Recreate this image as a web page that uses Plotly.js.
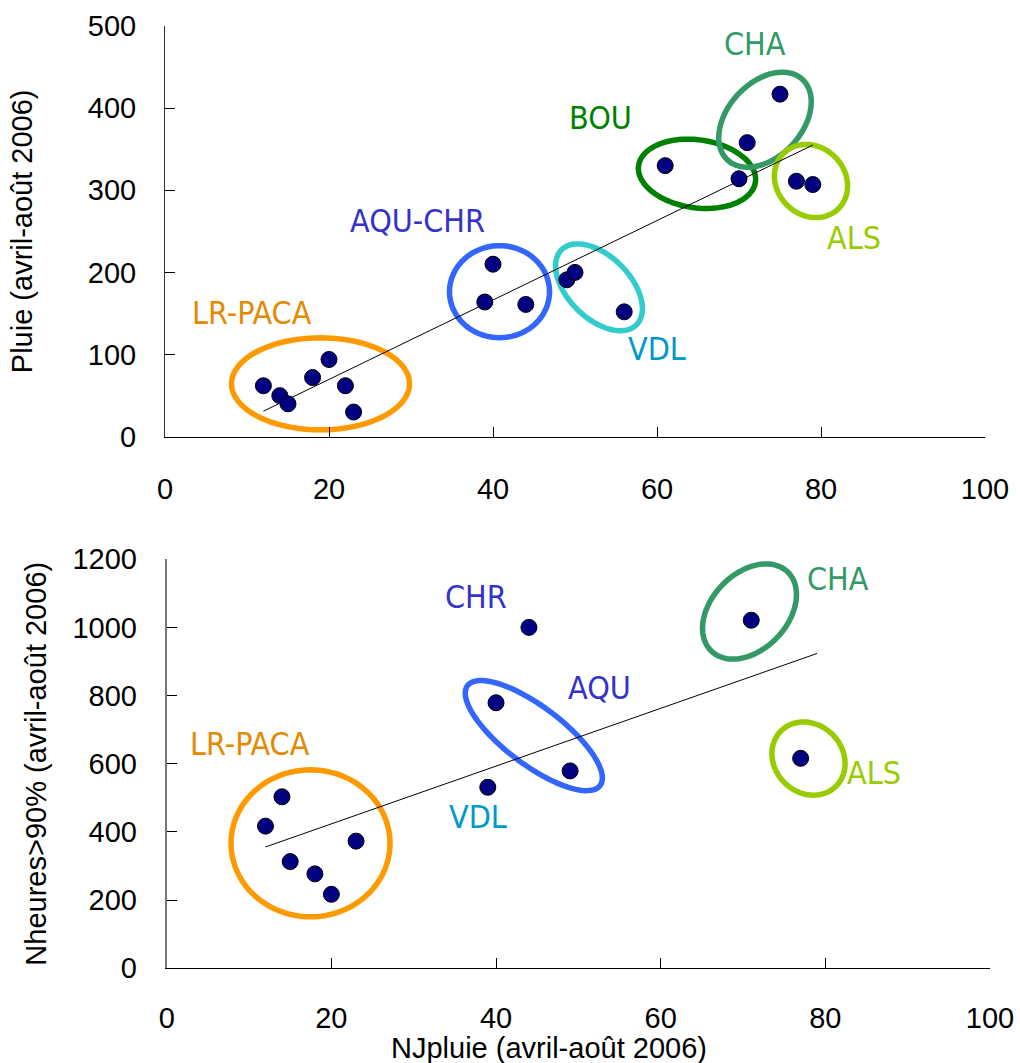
<!DOCTYPE html>
<html>
<head>
<meta charset="utf-8">
<script src="https://cdn.plot.ly/plotly-3.0.1.min.js"></script>
<style>html,body{margin:0;padding:0;background:#fff;}#chart{width:1020px;height:1063px;}</style>
</head>
<body>
<div id="chart"></div>
<script>
// ---- Data ----
const topX = [12, 14, 15, 18, 20, 22, 23, 40, 39, 44, 49, 50, 56, 61, 70, 71, 75, 77, 79];
const topY = [62, 50, 40, 72, 94, 62, 30, 210, 164, 161, 191, 200, 152, 330, 314, 358, 417, 311, 307];
const botX = [12, 14, 15, 18, 20, 23, 40, 39, 44, 49, 71, 77];
const botY = [417, 503, 313, 277, 217, 373, 779, 531, 1000, 579, 1021, 616];

const xTitle = "NJpluie (avril-août 2006)";
const yTitleTop = "Pluie (avril-août 2006)";
const yTitleBot = "Nheures>90% (avril-août 2006)";

const topLabels = ["LR-PACA", "AQU-CHR", "VDL", "BOU", "CHA", "ALS"];
const botLabels = ["LR-PACA", "CHR", "VDL", "AQU", "CHA", "ALS"];

// ---- Layout geometry ----
const W = 1020, H = 1063;
const M = {l: 100, r: 20, t: 10, b: 10};
const PW = W - M.l - M.r, PH = H - M.t - M.b;
const px2x = p => (p - M.l) / PW;
const py2y = p => (H - M.b - p) / PH;

const topXDom = [px2x(165), px2x(985)];
const topYDom = [py2y(436.7), py2y(26)];
const botXDom = [px2x(166.7), px2x(990)];
const botYDom = [py2y(968.3), py2y(559.2)];

const xRange = [0, 100], yRangeTop = [0, 500], yRangeBot = [0, 1200];

// least-squares trend line
function fit(xs, ys) {
  const n = xs.length;
  const mx = xs.reduce((a, b) => a + b, 0) / n;
  const my = ys.reduce((a, b) => a + b, 0) / n;
  let sxy = 0, sxx = 0;
  for (let i = 0; i < n; i++) { sxy += (xs[i] - mx) * (ys[i] - my); sxx += (xs[i] - mx) ** 2; }
  const s = sxy / sxx;
  return {s: s, c: my - s * mx};
}
const xMin = Math.min(...topX), xMax = Math.max(...topX);
const fTop = fit(topX, topY), fBot = fit(botX, botY);
const trendX = [xMin, xMax];

const marker = {size: 16, color: '#000080', line: {color: '#000000', width: 1}};

const traces = [
  {x: trendX, y: trendX.map(v => fTop.c + fTop.s * v), xaxis: 'x', yaxis: 'y', mode: 'lines',
   line: {color: '#000', width: 1}, hoverinfo: 'skip'},
  {x: topX, y: topY, xaxis: 'x', yaxis: 'y', mode: 'markers', marker: marker},
  {x: trendX, y: trendX.map(v => fBot.c + fBot.s * v), xaxis: 'x2', yaxis: 'y2', mode: 'lines',
   line: {color: '#000', width: 1}, hoverinfo: 'skip'},
  {x: botX, y: botY, xaxis: 'x2', yaxis: 'y2', mode: 'markers', marker: marker}
];

// ellipse outline as a path in data coords; a, b radii in px, ang in deg (screen, clockwise positive)
function ellipse(cxPx, cyPx, a, b, ang, xDom, yDom, yR, xref, yref, color) {
  const xLen = (xDom[1] - xDom[0]) * PW, yLen = (yDom[1] - yDom[0]) * PH;
  const xOrigin = M.l + xDom[0] * PW;
  const yOrigin = H - M.b - yDom[0] * PH;
  const kx = xLen / (xRange[1] - xRange[0]);
  const ky = yLen / (yR[1] - yR[0]);
  const th = ang * Math.PI / 180;
  let d = '';
  for (let i = 0; i <= 96; i++) {
    const t = i / 96 * 2 * Math.PI;
    const dx = a * Math.cos(t) * Math.cos(th) - b * Math.sin(t) * Math.sin(th);
    const dy = a * Math.cos(t) * Math.sin(th) + b * Math.sin(t) * Math.cos(th);
    const X = (cxPx + dx - xOrigin) / kx;
    const Y = (yOrigin - (cyPx + dy)) / ky;
    d += (i === 0 ? 'M' : 'L') + X.toFixed(3) + ',' + Y.toFixed(3);
  }
  d += 'Z';
  return {type: 'path', xref: xref, yref: yref, path: d, line: {color: color, width: 5.5}, layer: 'below'};
}

const C = {
  lr: '#FF9900', lrT: '#E38A00',
  aqu: '#3366FF', aquT: '#3333CC',
  vdl: '#33CCCC', vdlT: '#0099CC',
  bou: '#008000', cha: '#339966', als: '#99CC00'
};

const shapes = [
  ellipse(320.5, 383.8, 89, 46, 0, topXDom, topYDom, yRangeTop, 'x', 'y', C.lr),
  ellipse(499.5, 291.7, 50, 46, 0, topXDom, topYDom, yRangeTop, 'x', 'y', C.aqu),
  ellipse(599, 287.3, 53, 31, 45, topXDom, topYDom, yRangeTop, 'x', 'y', C.vdl),
  ellipse(697, 173.8, 59, 34, 8, topXDom, topYDom, yRangeTop, 'x', 'y', C.bou),
  ellipse(765, 119.7, 55, 37, -47, topXDom, topYDom, yRangeTop, 'x', 'y', C.cha),
  ellipse(811, 181, 39, 34, 45, topXDom, topYDom, yRangeTop, 'x', 'y', C.als),
  ellipse(310.5, 843.3, 79.5, 73.5, 0, botXDom, botYDom, yRangeBot, 'x2', 'y2', C.lr),
  ellipse(533.8, 735.6, 83, 29, 37, botXDom, botYDom, yRangeBot, 'x2', 'y2', C.aqu),
  ellipse(749.5, 611.5, 55, 38, -46, botXDom, botYDom, yRangeBot, 'x2', 'y2', C.cha),
  ellipse(808.5, 758.6, 39, 34, 45, botXDom, botYDom, yRangeBot, 'x2', 'y2', C.als)
];

const labFont = 'DejaVu Sans Condensed, DejaVu Sans, sans-serif';
function lab(text, px, py, color) {
  return {text: text, xref: 'paper', yref: 'paper', x: px2x(px), y: py2y(py),
          xanchor: 'center', yanchor: 'middle', showarrow: false,
          font: {family: labFont, size: 32, color: color}};
}
const titleFont = {family: 'Liberation Sans, Arial, sans-serif', size: 29, color: '#000'};
const annotations = [
  lab(topLabels[0], 251.5, 313, C.lrT),
  lab(topLabels[1], 417, 221, C.aquT),
  lab(topLabels[2], 657, 349, C.vdlT),
  lab(topLabels[3], 600, 118, C.bou),
  lab(topLabels[4], 754.5, 43.5, C.cha),
  lab(topLabels[5], 854, 238.5, C.als),
  lab(botLabels[0], 249.7, 744, C.lrT),
  lab(botLabels[1], 476.3, 596.5, C.aquT),
  lab(botLabels[2], 478, 816.5, C.vdlT),
  lab(botLabels[3], 599.7, 688, C.aquT),
  lab(botLabels[4], 838, 578.5, C.cha),
  lab(botLabels[5], 873.8, 773, C.als),
  // x-axis title of the lower panel (off-centre in the reference)
  {text: xTitle, xref: 'paper', yref: 'paper', x: px2x(548.5), y: py2y(1048), xanchor: 'center',
   yanchor: 'middle', showarrow: false, font: titleFont}
];

const tickFont = {family: 'Liberation Sans, Arial, sans-serif', size: 29, color: '#000'};
const axBase = {showgrid: false, zeroline: false, showline: true, linecolor: '#000', linewidth: 1,
                ticks: 'inside', ticklen: 10, tickcolor: '#000', tickwidth: 1, tickfont: tickFont,
                fixedrange: true};

const layout = {
  width: W, height: H, margin: M, showlegend: false,
  paper_bgcolor: '#fff', plot_bgcolor: 'rgba(0,0,0,0)',
  xaxis: Object.assign({}, axBase, {domain: topXDom, range: xRange, dtick: 20, tick0: 0, anchor: 'y',
                                    ticklabelstandoff: 26}),
  yaxis: Object.assign({}, axBase, {domain: topYDom, range: yRangeTop, dtick: 100, tick0: 0, anchor: 'x',
                                    linecolor: '#333', ticklabelstandoff: 22,
                                    title: {text: yTitleTop, font: titleFont, standoff: 46}}),
  xaxis2: Object.assign({}, axBase, {domain: botXDom, range: xRange, dtick: 20, tick0: 0, anchor: 'y2',
                                     ticklabelstandoff: 24}),
  yaxis2: Object.assign({}, axBase, {domain: botYDom, range: yRangeBot, dtick: 200, tick0: 0, anchor: 'x2',
                                     linecolor: '#777', linewidth: 2,
                                     ticklabelstandoff: 22,
                                     title: {text: yTitleBot, font: titleFont, standoff: 17}}),
  shapes: shapes,
  annotations: annotations
};

Plotly.newPlot('chart', traces, layout, {displayModeBar: false, staticPlot: true});
</script>
</body>
</html>
